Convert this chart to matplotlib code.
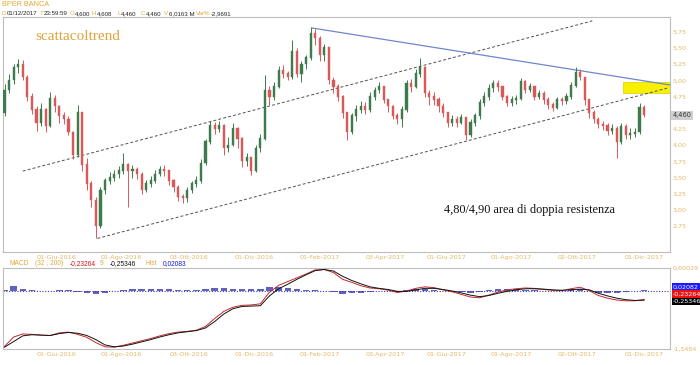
import numpy as np
import pandas as pd
import matplotlib
matplotlib.use('Agg')
import matplotlib.pyplot as plt
from matplotlib.patches import Rectangle

# trading calendar (Borsa Italiana closing days inside the range)
holidays = ['2016-08-15', '2016-12-26', '2017-04-14', '2017-04-17', '2017-05-01', '2017-08-15']
days = pd.bdate_range('2016-04-13', '2017-12-01', freq='C', holidays=holidays)

# one candle every 3 sessions
first_open = 4.50
closes = [4.85, 5.00, 5.20, 5.25, 5.05, 4.75, 4.55, 4.35, 4.55, 4.30,
          4.72, 4.60, 4.45, 4.40, 4.20, 3.85, 4.50, 3.70, 3.40, 3.15,
          2.75, 3.30, 3.45, 3.50, 3.55, 3.60, 3.70, 3.60, 3.62, 3.55,
          3.30, 3.40, 3.45, 3.55, 3.62, 3.60, 3.45, 3.35, 3.20, 3.18,
          3.30, 3.40, 3.45, 3.72, 4.05, 4.30, 4.25, 4.30, 3.95, 4.00,
          4.25, 4.10, 3.75, 3.80, 3.60, 3.95, 4.10, 4.85, 4.75, 4.90,
          5.15, 5.10, 5.05, 5.45, 5.10, 5.25, 5.35, 5.72, 5.65, 5.40,
          5.50, 5.00, 4.90, 4.75, 4.50, 4.20, 4.45, 4.55, 4.60, 4.55,
          4.75, 4.85, 4.90, 4.70, 4.60, 4.45, 4.40, 4.55, 4.95, 4.90,
          5.10, 5.20, 4.80, 4.75, 4.70, 4.60, 4.50, 4.35, 4.40, 4.35,
          4.42, 4.15, 4.35, 4.45, 4.65, 4.75, 4.88, 4.95, 4.90, 4.75,
          4.65, 4.70, 4.72, 4.98, 4.85, 4.90, 4.75, 4.80, 4.70, 4.62,
          4.58, 4.70, 4.68, 4.75, 4.92, 5.12, 5.05, 4.70, 4.50, 4.40,
          4.32, 4.30, 4.22, 4.25, 4.05, 4.28, 4.15, 4.18, 4.20, 4.58,
          4.46]
highs = [4.95, 5.10, 5.26, 5.33, 5.32, 5.08, 4.80, 4.60, 4.65, 4.58,
         4.82, 4.78, 4.62, 4.52, 4.45, 4.22, 4.62, 4.52, 3.80, 3.45,
         3.20, 3.35, 3.50, 3.58, 3.62, 3.68, 3.88, 3.72, 3.70, 3.66,
         3.58, 3.46, 3.52, 3.62, 3.68, 3.70, 3.62, 3.48, 3.38, 3.25,
         3.36, 3.45, 3.52, 3.78, 4.10, 4.38, 4.36, 4.38, 4.32, 4.12,
         4.34, 4.28, 4.12, 3.88, 3.82, 4.00, 4.18, 5.08, 4.92, 4.98,
         5.22, 5.24, 5.15, 5.62, 5.50, 5.30, 5.40, 5.82, 5.80, 5.68,
         5.56, 5.52, 5.05, 4.95, 4.78, 4.52, 4.50, 4.62, 4.68, 4.66,
         4.82, 4.90, 4.98, 4.92, 4.72, 4.62, 4.50, 4.60, 5.00, 5.02,
         5.18, 5.35, 5.22, 4.85, 4.82, 4.74, 4.65, 4.52, 4.46, 4.45,
         4.48, 4.44, 4.40, 4.50, 4.72, 4.82, 4.94, 5.00, 5.00, 4.92,
         4.78, 4.76, 4.78, 5.04, 5.00, 4.96, 4.92, 4.86, 4.84, 4.74,
         4.66, 4.75, 4.74, 4.80, 4.98, 5.20, 5.18, 5.06, 4.72, 4.54,
         4.44, 4.38, 4.34, 4.32, 4.30, 4.34, 4.32, 4.26, 4.26, 4.65,
         4.62]
lows = [4.45, 4.80, 4.95, 5.12, 5.00, 4.68, 4.48, 4.22, 4.30, 4.20,
        4.28, 4.52, 4.35, 4.32, 4.15, 3.78, 3.82, 3.60, 3.30, 3.05,
        2.56, 2.72, 3.25, 3.40, 3.45, 3.50, 3.55, 3.05, 3.50, 3.48,
        3.24, 3.28, 3.36, 3.42, 3.52, 3.52, 3.38, 3.28, 3.14, 3.10,
        3.12, 3.26, 3.36, 3.42, 3.70, 4.02, 4.18, 4.20, 3.85, 3.90,
        3.98, 3.96, 3.66, 3.68, 3.54, 3.58, 3.90, 4.08, 4.62, 4.70,
        4.88, 5.04, 5.00, 5.02, 5.05, 4.98, 5.18, 5.32, 5.55, 5.30,
        5.30, 4.95, 4.80, 4.68, 4.42, 4.08, 4.18, 4.38, 4.50, 4.48,
        4.52, 4.70, 4.80, 4.65, 4.52, 4.40, 4.32, 4.28, 4.52, 4.82,
        4.88, 5.05, 4.75, 4.62, 4.62, 4.52, 4.44, 4.28, 4.30, 4.28,
        4.32, 4.08, 4.12, 4.30, 4.40, 4.60, 4.70, 4.82, 4.84, 4.70,
        4.60, 4.60, 4.64, 4.70, 4.80, 4.82, 4.70, 4.72, 4.64, 4.56,
        4.53, 4.56, 4.62, 4.64, 4.72, 4.90, 5.00, 4.62, 4.42, 4.34,
        4.26, 4.24, 4.16, 4.18, 3.80, 4.02, 4.10, 4.10, 4.12, 4.18,
        4.44]

# MACD(32,200) and signal(9), one value every 2 candles
macd = [-1.48, -1.23, -1.15, -1.16, -1.18, -1.19, -1.12, -1.10, -1.16, -1.24,
        -1.38, -1.49, -1.50, -1.45, -1.39, -1.33, -1.27, -1.20, -1.14, -1.10,
        -1.08, -1.05, -0.95, -0.74, -0.55, -0.44, -0.39, -0.38, -0.35, -0.04,
        0.14, 0.24, 0.34, 0.44, 0.55, 0.56, 0.48, 0.30, 0.22, 0.13,
        0.07, 0.05, 0.01, -0.05, -0.01, 0.06, 0.10, 0.08, 0.02, -0.03,
        -0.10, -0.17, -0.19, -0.12, -0.04, 0.02, 0.05, 0.07, 0.06, 0.03,
        0.01, 0.00, 0.05, 0.09, 0.00, -0.13, -0.20, -0.25, -0.27, -0.27,
        -0.23264]
signal = [-1.50, -1.35, -1.20, -1.17, -1.18, -1.19, -1.14, -1.11, -1.13, -1.19,
          -1.30, -1.44, -1.49, -1.47, -1.42, -1.36, -1.30, -1.23, -1.17, -1.12,
          -1.09, -1.06, -0.99, -0.82, -0.62, -0.48, -0.42, -0.41, -0.40, -0.14,
          0.05, 0.17, 0.30, 0.42, 0.53, 0.56, 0.52, 0.38, 0.27, 0.18,
          0.10, 0.06, 0.03, -0.02, -0.02, 0.02, 0.06, 0.06, 0.03, -0.01,
          -0.06, -0.12, -0.16, -0.13, -0.07, -0.02, 0.02, 0.05, 0.05, 0.04,
          0.02, 0.01, 0.02, 0.04, 0.02, -0.07, -0.14, -0.20, -0.24, -0.26,
          -0.25346]

tick_dates = ['2016-06-01', '2016-08-01', '2016-10-03', '2016-12-01', '2017-02-01',
              '2017-04-03', '2017-06-01', '2017-08-01', '2017-10-02', '2017-12-01']
mesi = ['Gen', 'Feb', 'Mar', 'Apr', 'Mag', 'Giu', 'Lug', 'Ago', 'Set', 'Ott', 'Nov', 'Dic']
price_ticks = [2.75, 3.00, 3.25, 3.50, 3.75, 4.00, 4.25, 4.75, 5.00, 5.25, 5.50, 5.75]

# drawings on the chart: (session index, price)
upper_channel = [(13, 3.60), (387, 5.92)]
lower_channel = [(62, 2.56), (436, 4.88)]
resistance = [(203, 5.81), (438, 4.93)]
zone = (407, 438, 4.81, 4.98)

ORANGE = '#e3a83a'
LABEL = '#e2b868'
RED = '#d9595b'
GREEN = '#3e7a4c'

n = len(days)
pos = n - 1 - 3 * np.arange(len(closes))[::-1]
closes = np.array(closes)
opens = np.concatenate([[first_open], closes[:-1]])
highs = np.array(highs)
lows = np.array(lows)
up = closes >= opens
cols = np.where(up, GREEN, RED)

fig = plt.figure(figsize=(7, 3.65), dpi=100)
W, H = 700, 365
def fx(x):
    return x / W
def fy(y):
    return 1 - y / H

ax = fig.add_axes([fx(3), fy(252), fx(670) - fx(3), fy(17) - fy(252)])
ax2 = fig.add_axes([fx(3), fy(349), fx(670) - fx(3), fy(268) - fy(349)])

# candles
ax.vlines(pos, lows, highs, colors=cols, lw=0.7, zorder=3)
ax.bar(pos, np.abs(closes - opens) + 0.01, bottom=np.minimum(opens, closes),
       width=1.4, color=cols, edgecolor=cols, lw=0.3, zorder=3)

# trend lines and zone
for line in (upper_channel, lower_channel):
    (x0, y0), (x1, y1) = line
    ax.plot([x0, x1], [y0, y1], color='#505050', lw=0.7, dashes=(3, 2.2), zorder=2)
(x0, y0), (x1, y1) = resistance
ax.plot([x0, x1], [y0, y1], color='#6f86cf', lw=0.9, zorder=2)
ax.add_patch(Rectangle((zone[0], zone[2]), zone[1] - zone[0], zone[3] - zone[2],
                       facecolor='#f8f000', edgecolor='#d8d000', lw=0.5, zorder=1))

ax.set_xlim(0, 438)
ax.set_ylim(2.35, 5.98)

tick_pos = days.get_indexer(pd.to_datetime(tick_dates))
tick_lab = [f'{d.day:02d}-{mesi[d.month - 1]}-{d.year}' for d in pd.to_datetime(tick_dates)]

for a in (ax, ax2):
    a.set_xticks(tick_pos)
    a.set_xticklabels(tick_lab)
    a.yaxis.tick_right()
    a.tick_params(length=0, labelsize=4.6, labelcolor=LABEL, pad=2)
    for s in a.spines.values():
        s.set_color('#bdbdbd')
        s.set_linewidth(0.8)

ax.set_yticks(price_ticks)
ax.set_yticklabels([f'{v:.2f}'.replace('.', ',') for v in price_ticks])

# last price box
last = closes[-1]
ax.text(1.004, last, f'{last:.3f}'.replace('.', ','), transform=ax.get_yaxis_transform(),
        fontsize=4.8, color='#333333', va='center', ha='left',
        bbox=dict(boxstyle='square,pad=0.25', fc='#cfcfcf', ec='none'))

# MACD panel
mpos = pos[::2]
macd = np.array(macd)
signal = np.array(signal)
hist = macd - signal
ax2.axhline(0, color='#3a3ab0', lw=0.8, ls=(0, (1, 1.5)), zorder=1)
ax2.bar(mpos, hist, width=4.2, color='#3a3ab0', alpha=0.8, zorder=2)
ax2.plot(mpos, macd, color='#c62828', lw=0.7, zorder=3)
ax2.plot(mpos, signal, color='#111111', lw=0.7, zorder=3)
ax2.set_xlim(0, 438)
ax2.set_ylim(-1.5484, 0.60029)
ax2.set_yticks([])
ax2.text(1.004, 1.0, '0,60029', transform=ax2.transAxes, fontsize=4.6, color=LABEL, va='center')
ax2.text(1.004, 0.0, '-1,5484', transform=ax2.transAxes, fontsize=4.6, color=LABEL, va='center')
for val, col, y in ((hist[-1], '#1a1aff', 287), (macd[-1], '#ee1111', 294), (signal[-1], '#000000', 301.5)):
    fig.text(fx(673), fy(y), f'{val:.5f}'.replace('.', ','), fontsize=4.6, color='white',
             va='center', ha='left', bbox=dict(boxstyle='square,pad=0.2', fc=col, ec='none'))

# header texts
fig.text(fx(2), fy(4.5), 'BPER BANCA', fontsize=5.2, color=ORANGE, va='center', family='Liberation Sans')
hdr = [('D', 2, ORANGE), ('01/12/2017', 7, '#222222'), ('T', 40, ORANGE), ('23:59:59', 44, '#222222'),
       ('O', 70, ORANGE), ('4,600', 75, '#222222'), ('H', 92, ORANGE), ('4,608', 97, '#222222'),
       ('L', 117, ORANGE), ('4,460', 121, '#222222'), ('C', 141, ORANGE), ('4,460', 146, '#222222'),
       ('V', 164, ORANGE), ('6,0163 M', 169, '#222222'), ('Var%', 196, ORANGE), ('-2,9691', 211, '#222222')]
for s, x, c in hdr:
    fig.text(fx(x), fy(13.5), s, fontsize=4.4, color=c, va='center', family='Liberation Sans')

mh = [('MACD', 10, ORANGE), ('(32 , 200)', 35, ORANGE), ('-0,23264', 70, '#e01010'), ('9', 100, ORANGE),
      ('-0,25346', 110, '#111111'), ('Hist', 146, ORANGE), ('0,02083', 163, '#1a1ad0')]
for s, x, c in mh:
    fig.text(fx(x), fy(263.3), s, fontsize=4.8, color=c, va='center', family='Liberation Sans')

fig.text(fx(35), fy(37), 'scattacoltrend', fontsize=11, color='#e0a43a', va='center',
         family='Liberation Serif')
fig.text(fx(444), fy(210), '4,80/4,90 area di doppia resistenza', fontsize=8.8, color='#111111',
         va='center', family='Liberation Serif')

fig.savefig('out.png', dpi=100)
